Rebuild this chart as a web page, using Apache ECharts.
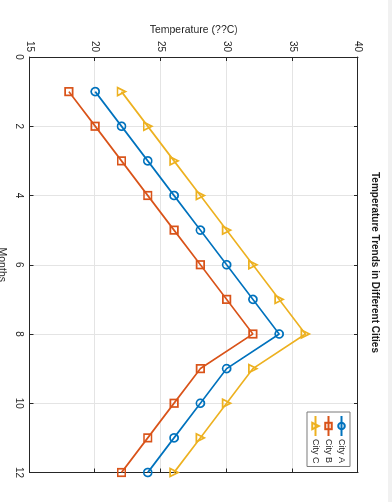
<!DOCTYPE html>
<html>
<head>
<meta charset="utf-8">
<script src="https://cdn.jsdelivr.net/npm/echarts@6/dist/echarts.min.js"></script>
<style>
html,body{margin:0;padding:0;background:#fff;overflow:hidden;width:392px;height:502px;}
#chart{position:absolute;left:0;top:0;width:502px;height:392px;transform-origin:0 0;transform:translate(392px,0) rotate(90deg);}
#edge{position:absolute;left:388px;top:0;width:4px;height:502px;background:#f1f1f1;}
</style>
</head>
<body>
<div id="chart"></div>
<div id="edge"></div>
<script>
// Data (months vs temperature)
const months = [1,2,3,4,5,6,7,8,9,10,11,12];
const cityA = [20,22,24,26,28,30,32,34,30,28,26,24];
const cityB = [18,20,22,24,26,28,30,32,28,26,24,22];
const cityC = [22,24,26,28,30,32,34,36,32,30,28,26];
const seriesNames = ['City A','City B','City C'];
const monthTicks = {min:0, max:12, interval:2};
const tempTicks = {min:15, max:40, interval:5};

const FONT = 'Liberation Sans, Arial, Helvetica, sans-serif';
const AX = '#262626';
const GRID = '#e4e4e4';
const colors = ['#0072BD','#D95319','#EDB120'];
const symbols = ['circle','rect','triangle'];

function mk(name, vals, idx){
  return {
    name: name, type:'line', xAxisIndex:0, yAxisIndex:0,
    data: months.map((m,i)=>[m, vals[i]]),
    symbol: symbols[idx], symbolSize: idx===1?7.5:8,
    showAllSymbol:true,
    color: colors[idx],
    lineStyle:{color:colors[idx], width:1.7},
    itemStyle:{color:'rgba(255,255,255,0)', borderColor:colors[idx], borderWidth:1.7},
    emphasis:{disabled:true},
    animation:false, z:5
  };
}

const chart = echarts.init(document.getElementById('chart'), null, {renderer:'canvas'});
const tickStyle = {inside:true, length:4, lineStyle:{color:AX, width:1}};
chart.setOption({
  backgroundColor:'#fff',
  animation:false,
  textStyle:{fontFamily:FONT},
  title:{
    text:'Temperature Trends in Different Cities',
    left:172, top:12, padding:0,
    textStyle:{fontFamily:FONT, fontSize:10, fontWeight:'bold', color:'#1a1a1a'}
  },
  legend:{
    orient:'vertical', left:412, top:42,
    data: seriesNames,
    itemWidth:20, itemHeight:8, itemGap:4,
    padding:[4,3,4,3],
    backgroundColor:'#fff', borderColor:'#7a7a7a', borderWidth:1, borderRadius:0,
    textStyle:{fontFamily:FONT, fontSize:9, color:AX, padding:[0,0,0,-2]}
  },
  grid:{left:57, right:29.5, top:34, bottom:29.5, containLabel:false, outerBoundsMode:'none'},
  xAxis:[
    {type:'value', position:'bottom', min:monthTicks.min, max:monthTicks.max, interval:monthTicks.interval,
     name:'Months', nameLocation:'middle', nameGap:22, nameMoveOverlap:false,
     nameTextStyle:{fontFamily:FONT, fontSize:10.5, color:AX},
     axisLine:{show:true, onZero:false, lineStyle:{color:AX, width:1}},
     axisTick:tickStyle,
     axisLabel:{margin:6, fontFamily:FONT, fontSize:10, color:AX},
     splitLine:{show:true, lineStyle:{color:GRID, width:1}}},
    {type:'value', position:'top', min:monthTicks.min, max:monthTicks.max, interval:monthTicks.interval,
     axisLine:{show:true, onZero:false, lineStyle:{color:AX, width:1}},
     axisTick:tickStyle, axisLabel:{show:false}, splitLine:{show:false}}
  ],
  yAxis:[
    {type:'value', position:'left', min:tempTicks.min, max:tempTicks.max, interval:tempTicks.interval,
     name:'Temperature (??C)', nameLocation:'middle', nameGap:21, nameMoveOverlap:false,
     nameTextStyle:{fontFamily:FONT, fontSize:10.5, color:AX},
     axisLine:{show:true, onZero:false, lineStyle:{color:AX, width:1}},
     axisTick:tickStyle,
     axisLabel:{margin:5, fontFamily:FONT, fontSize:10, color:AX},
     splitLine:{show:true, lineStyle:{color:GRID, width:1}}},
    {type:'value', position:'right', min:tempTicks.min, max:tempTicks.max, interval:tempTicks.interval,
     axisLine:{show:true, onZero:false, lineStyle:{color:AX, width:1}},
     axisTick:tickStyle, axisLabel:{show:false}, splitLine:{show:false}}
  ],
  series:[mk(seriesNames[0], cityA, 0), mk(seriesNames[1], cityB, 1), mk(seriesNames[2], cityC, 2)]
});
</script>
</body>
</html>
